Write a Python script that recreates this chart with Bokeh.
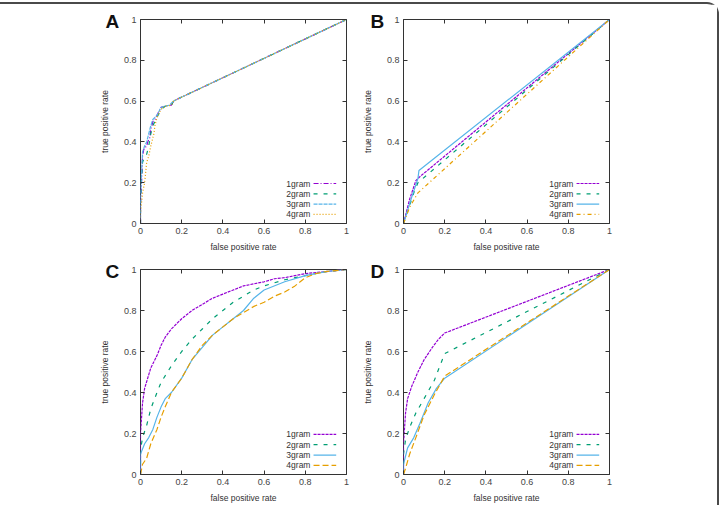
from bokeh.plotting import figure
from bokeh.layouts import row, column
from bokeh.models import Range1d, FixedTicker, LinearAxis, Title
from bokeh.core.properties import value
from bokeh.embed import file_html
from bokeh.resources import INLINE

series_names = ["1gram", "2gram", "3gram", "4gram"]
tick_values = [0, 0.2, 0.4, 0.6, 0.8, 1]
tick_labels = ["0", "0.2", "0.4", "0.6", "0.8", "1"]
x_title = "false positive rate"
y_title = "true positive rate"
panel_letters = ["A", "B", "C", "D"]

# Panel A
a_1gram_fpr = [0, 0, 0.005, 0.01, 0.015, 0.02, 0.03, 0.035, 0.045, 0.05, 0.06, 0.07, 0.08, 0.09, 0.1, 0.12, 0.14, 0.15, 0.16, 0.18, 1]
a_1gram_tpr = [0, 0.1, 0.2, 0.33, 0.36, 0.37, 0.38, 0.4, 0.42, 0.46, 0.5, 0.51, 0.53, 0.55, 0.57, 0.575, 0.58, 0.58, 0.6, 0.61, 1]
a_2gram_fpr = [0, 0, 0.005, 0.01, 0.02, 0.03, 0.04, 0.05, 0.06, 0.07, 0.09, 0.1, 0.12, 0.15, 0.16, 0.18, 1]
a_2gram_tpr = [0, 0.1, 0.22, 0.3, 0.33, 0.34, 0.38, 0.44, 0.48, 0.5, 0.54, 0.56, 0.575, 0.58, 0.6, 0.61, 1]
a_3gram_fpr = [0, 0, 0.005, 0.01, 0.02, 0.03, 0.04, 0.05, 0.06, 0.08, 0.1, 0.14, 0.16, 0.18, 1]
a_3gram_tpr = [0, 0.12, 0.25, 0.35, 0.38, 0.4, 0.44, 0.48, 0.51, 0.53, 0.57, 0.58, 0.6, 0.61, 1]
a_4gram_fpr = [0, 0, 0.01, 0.02, 0.03, 0.04, 0.05, 0.06, 0.065, 0.07, 0.08, 0.1, 0.12, 0.15, 0.16, 0.18, 1]
a_4gram_tpr = [0, 0.05, 0.15, 0.2, 0.3, 0.33, 0.38, 0.42, 0.44, 0.48, 0.52, 0.56, 0.575, 0.58, 0.6, 0.61, 1]

# Panel B
b_1gram_fpr = [0, 0.03, 0.06, 0.08, 1]
b_1gram_tpr = [0, 0.12, 0.21, 0.23, 1]
b_2gram_fpr = [0, 0.05, 0.07, 1]
b_2gram_tpr = [0, 0.15, 0.2, 1]
b_3gram_fpr = [0, 0.04, 0.07, 0.075, 1]
b_3gram_tpr = [0, 0.13, 0.22, 0.26, 1]
b_4gram_fpr = [0, 0.03, 0.07, 1]
b_4gram_tpr = [0, 0.08, 0.15, 1]

# Panel C
c_1gram_fpr = [0, 0, 0.01, 0.02, 0.05, 0.08, 0.1, 0.12, 0.15, 0.2, 0.25, 0.3, 0.35, 0.4, 0.45, 0.5, 0.6, 0.65, 0.7, 0.8, 0.9, 1]
c_1gram_tpr = [0, 0.2, 0.35, 0.42, 0.52, 0.58, 0.63, 0.67, 0.71, 0.76, 0.8, 0.83, 0.86, 0.88, 0.9, 0.92, 0.94, 0.955, 0.96, 0.98, 0.99, 1]
c_2gram_fpr = [0, 0, 0.01, 0.03, 0.05, 0.08, 0.1, 0.15, 0.2, 0.25, 0.3, 0.35, 0.4, 0.45, 0.5, 0.55, 0.6, 0.7, 0.8, 0.9, 1]
c_2gram_tpr = [0, 0.12, 0.18, 0.24, 0.32, 0.4, 0.45, 0.53, 0.6, 0.66, 0.71, 0.76, 0.8, 0.84, 0.87, 0.9, 0.92, 0.95, 0.97, 0.99, 1]
c_3gram_fpr = [0, 0, 0.02, 0.04, 0.06, 0.08, 0.1, 0.12, 0.15, 0.2, 0.25, 0.3, 0.35, 0.4, 0.45, 0.5, 0.55, 0.6, 0.7, 0.8, 0.9, 1]
c_3gram_tpr = [0, 0.1, 0.15, 0.18, 0.22, 0.28, 0.33, 0.37, 0.4, 0.47, 0.56, 0.62, 0.68, 0.72, 0.76, 0.8, 0.86, 0.9, 0.94, 0.97, 0.99, 1]
c_4gram_fpr = [0, 0.01, 0.03, 0.05, 0.08, 0.1, 0.12, 0.15, 0.2, 0.25, 0.3, 0.35, 0.4, 0.45, 0.5, 0.55, 0.6, 0.65, 0.7, 0.75, 0.8, 0.85, 0.9, 1]
c_4gram_tpr = [0, 0.05, 0.08, 0.15, 0.22, 0.28, 0.33, 0.4, 0.47, 0.56, 0.63, 0.68, 0.72, 0.76, 0.79, 0.82, 0.84, 0.87, 0.89, 0.92, 0.96, 0.98, 0.99, 1]

# Panel D
d_1gram_fpr = [0, 0, 0.01, 0.02, 0.04, 0.07, 0.1, 0.14, 0.17, 0.2, 1]
d_1gram_tpr = [0, 0.15, 0.3, 0.37, 0.43, 0.5, 0.56, 0.62, 0.66, 0.69, 1]
d_2gram_fpr = [0, 0, 0.01, 0.03, 0.06, 0.1, 0.15, 0.2, 1]
d_2gram_tpr = [0, 0.1, 0.17, 0.23, 0.3, 0.37, 0.46, 0.59, 1]
d_3gram_fpr = [0, 0, 0.02, 0.05, 0.08, 0.12, 0.16, 0.2, 1]
d_3gram_tpr = [0, 0.05, 0.13, 0.18, 0.25, 0.35, 0.42, 0.47, 1]
d_4gram_fpr = [0, 0.01, 0.03, 0.06, 0.1, 0.15, 0.2, 1]
d_4gram_tpr = [0, 0.03, 0.1, 0.18, 0.29, 0.39, 0.48, 1]

colors = ["#9400d3", "#009e73", "#56b4e9", "#e69f00"]
dashes_a = ["5 2 1 2", "4 6", "4 1", "1 2"]
dashes_b = ["3 1", "4 6", "solid", "4 3 1 3"]
dashes_cd = ["3 1", "4 6", "solid", "6 3"]

FONT = "Liberation Sans"


def style_axis(ax, show_labels=True):
    ax.ticker = FixedTicker(ticks=tick_values)
    ax.major_tick_in = 4
    ax.major_tick_out = 0
    ax.minor_tick_line_color = None
    ax.axis_line_color = None
    ax.major_tick_line_color = "#333333"
    ax.major_tick_line_width = 1
    ax.major_label_text_font = FONT
    ax.major_label_text_color = "#444444"
    ax.major_label_text_font_size = "9px"
    if show_labels:
        ax.major_label_overrides = {t: l for t, l in zip(tick_values, tick_labels)}
        ax.major_label_standoff = 4
    else:
        ax.major_label_overrides = {t: "" for t in tick_values}
        ax.major_label_standoff = 0
    ax.axis_label_text_font = FONT
    ax.axis_label_text_font_size = "8.5px"
    ax.axis_label_text_font_style = "normal"
    ax.axis_label_text_color = "#333333"


def make_panel(letter, series, dashes, mb_left, mb_right, mb_top, mb_bottom, fh, letter_offset):
    p = figure(frame_width=206, frame_height=fh,
               x_range=Range1d(0, 1), y_range=Range1d(0, 1),
               output_backend="svg", toolbar_location=None,
               min_border_left=mb_left, min_border_right=mb_right,
               min_border_top=mb_top, min_border_bottom=mb_bottom,
               x_axis_label=x_title, y_axis_label=y_title)
    p.grid.visible = False
    p.outline_line_color = "#333333"
    p.outline_line_width = 1
    p.background_fill_color = "white"
    p.border_fill_color = "white"
    style_axis(p.xaxis[0])
    style_axis(p.yaxis[0])
    p.xaxis[0].axis_label_standoff = 5
    p.yaxis[0].axis_label_standoff = 11
    top_ax = LinearAxis()
    right_ax = LinearAxis()
    style_axis(top_ax, False)
    style_axis(right_ax, False)
    p.add_layout(top_ax, "above")
    p.add_layout(right_ax, "right")

    for (xs, ys), c, d in zip(series, colors, dashes):
        p.line(xs, ys, line_color=c, line_width=1.2, line_dash=d)

    # legend (label left, sample right, as in gnuplot)
    rows = [0.196 - 0.0505 * i for i in range(4)]
    p.text(x=[0.825] * 4, y=rows, text=series_names, text_align="right",
           text_baseline="middle", text_font=value(FONT), text_font_size="8.5px",
           text_color="#333333")
    for i, (c, d) in enumerate(zip(colors, dashes)):
        p.segment(x0=[0.84], y0=[rows[i]], x1=[0.95], y1=[rows[i]],
                  line_color=c, line_width=1.2, line_dash=d)

    # panel letter as a title pulled to the top-left corner
    p.add_layout(Title(text=letter, align="left", offset=letter_offset,
                       standoff=-24, text_font=FONT, text_font_size="19px",
                       text_font_style="bold", text_color="#111111"), "above")
    return p


pa = make_panel(panel_letters[0],
                [(a_1gram_fpr, a_1gram_tpr), (a_2gram_fpr, a_2gram_tpr),
                 (a_3gram_fpr, a_3gram_tpr), (a_4gram_fpr, a_4gram_tpr)],
                dashes_a, 140, 10, 15, 34, 204, -35)
pb = make_panel(panel_letters[1],
                [(b_1gram_fpr, b_1gram_tpr), (b_2gram_fpr, b_2gram_tpr),
                 (b_3gram_fpr, b_3gram_tpr), (b_4gram_fpr, b_4gram_tpr)],
                dashes_b, 47, 108, 15, 34, 204, -33)
pc = make_panel(panel_letters[2],
                [(c_1gram_fpr, c_1gram_tpr), (c_2gram_fpr, c_2gram_tpr),
                 (c_3gram_fpr, c_3gram_tpr), (c_4gram_fpr, c_4gram_tpr)],
                dashes_cd, 140, 10, 12, 31, 205, -35)
pd_ = make_panel(panel_letters[3],
                 [(d_1gram_fpr, d_1gram_tpr), (d_2gram_fpr, d_2gram_tpr),
                  (d_3gram_fpr, d_3gram_tpr), (d_4gram_fpr, d_4gram_tpr)],
                 dashes_cd, 47, 108, 12, 31, 205, -33)

layout = column(row(pa, pb), row(pc, pd_),
                styles={"margin-top": "2px",
                        "border-top": "2px solid #4a4a4a",
                        "border-right": "2px solid #4a4a4a",
                        "border-top-right-radius": "12px",
                        "background": "white"})

open("out.html", "w").write(file_html(layout, INLINE))
